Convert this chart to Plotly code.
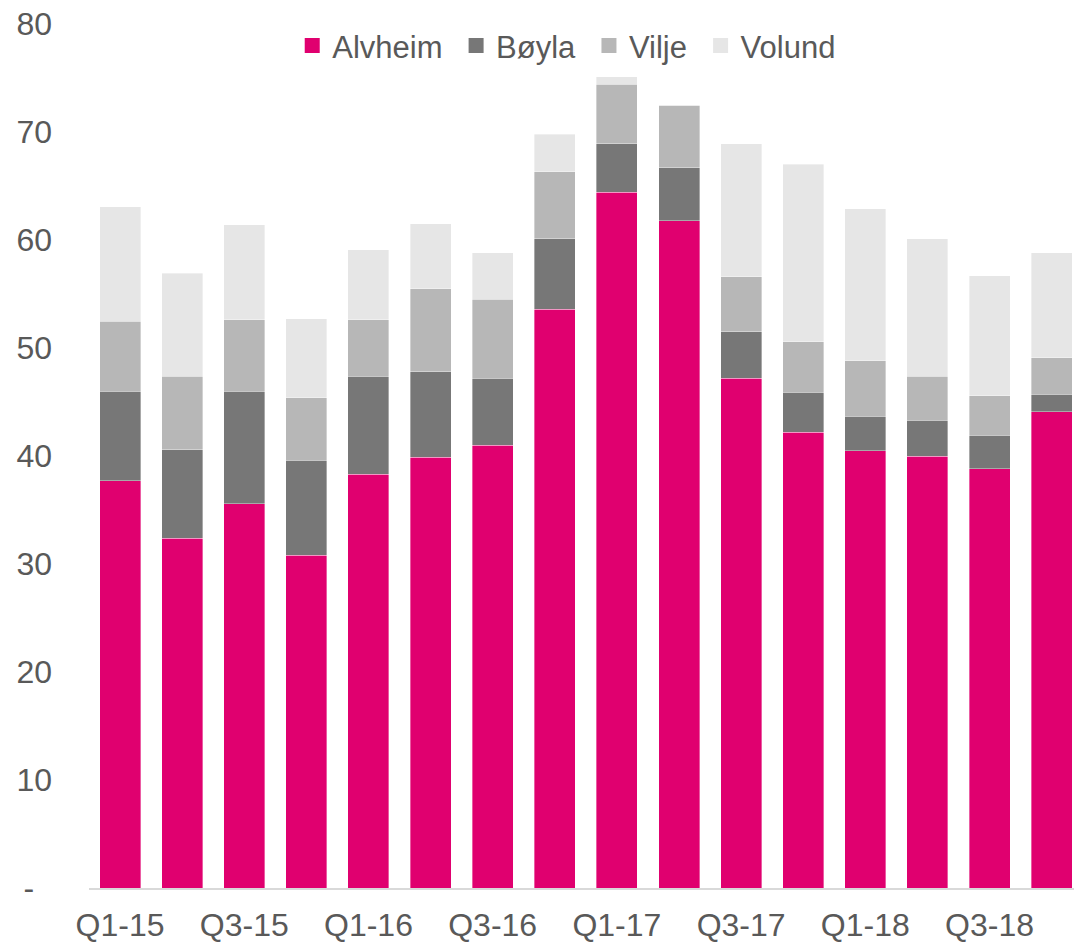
import plotly.graph_objects as go

quarters = ["Q1-15", "Q2-15", "Q3-15", "Q4-15", "Q1-16", "Q2-16", "Q3-16", "Q4-16",
            "Q1-17", "Q2-17", "Q3-17", "Q4-17", "Q1-18", "Q2-18", "Q3-18", "Q4-18"]
alvheim = [37.7, 32.4, 35.6, 30.8, 38.3, 39.9, 41.0, 53.6, 64.4, 61.8, 47.2, 42.2, 40.5, 40.0, 38.8, 44.1]
boyla   = [8.3, 8.2, 10.4, 8.8, 9.1, 7.9, 6.2, 6.5, 4.5, 4.9, 4.3, 3.7, 3.2, 3.3, 3.1, 1.6]
vilje   = [6.5, 6.8, 6.6, 5.8, 5.2, 7.7, 7.3, 6.2, 5.5, 5.8, 5.1, 4.7, 5.1, 4.1, 3.7, 3.4]
volund  = [10.6, 9.5, 8.8, 7.3, 6.5, 6.0, 4.3, 3.5, 0.7, 0.0, 12.3, 16.4, 14.1, 12.7, 11.1, 9.7]

y_ticks = [0, 10, 20, 30, 40, 50, 60, 70, 80]
y_ticktext = ["-\u00a0\u00a0", "10", "20", "30", "40", "50", "60", "70", "80"]
x_tickvals = quarters[::2]

series = [("Alvheim", alvheim, "#E0006F"),
          ("Bøyla", boyla, "#777777"),
          ("Vilje", vilje, "#B7B7B7"),
          ("Volund", volund, "#E6E6E6")]

fig = go.Figure()
for name, vals, color in series:
    fig.add_trace(go.Bar(x=quarters, y=vals, name=name, showlegend=False,
                         marker=dict(color=color, line=dict(width=0.6, color="rgba(255,255,255,0.6)"))))
# legend-only entries with larger square swatches
for i, (name, vals, color) in enumerate(series):
    label = name + ("\u00a0" if i < len(series) - 1 else "")
    fig.add_trace(go.Scatter(x=[None], y=[None], mode="markers", name=label,
                             marker=dict(symbol="square", size=15, color=color)))

font_family = "Liberation Sans, Arial, sans-serif"
fig.update_layout(
    barmode="stack",
    bargap=0.34,
    width=1074, height=942,
    margin=dict(l=89, r=0, t=24, b=54),
    paper_bgcolor="white", plot_bgcolor="white",
    font=dict(family=font_family, size=32, color="#595959"),
    showlegend=True,
    legend=dict(orientation="h", x=0.485, xanchor="center", y=1.006, yanchor="top",
                font=dict(size=31, color="#595959"), bgcolor="rgba(0,0,0,0)",
                itemwidth=30, traceorder="normal"),
    xaxis=dict(type="category", range=[-0.5, 15.36], tickvals=x_tickvals, ticktext=x_tickvals,
               showline=True, linecolor="#D9D9D9", linewidth=2, showgrid=False, ticks="",
               tickfont=dict(size=32, color="#595959"), tickangle=0, fixedrange=True,
               ticklabelstandoff=8, automargin=False),
    yaxis=dict(range=[0, 80], tickvals=y_ticks, ticktext=y_ticktext, showgrid=False,
               zeroline=False, showline=False, ticks="", ticklabelstandoff=36,
               ticklabeloverflow="allow",
               tickfont=dict(size=32, color="#595959"), automargin=False),
)

fig.write_html("out.html",
               config={"displayModeBar": False},
               post_script="document.body.style.margin='0';document.body.style.overflow='hidden';")
